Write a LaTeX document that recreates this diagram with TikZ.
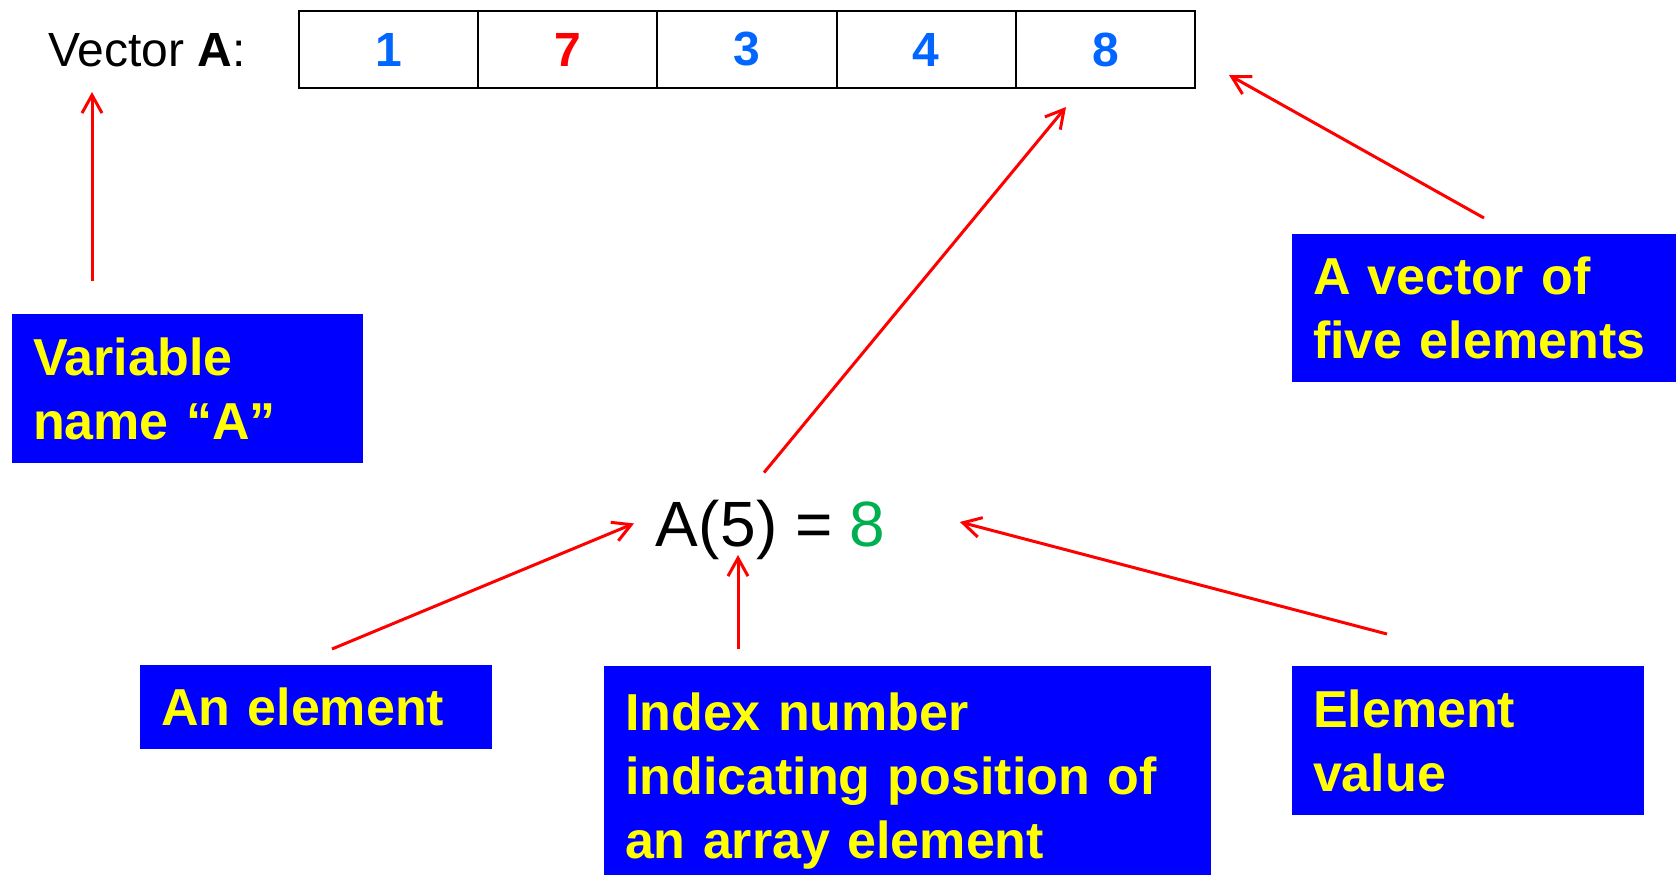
\documentclass[tikz,border=0pt]{standalone}
\usepackage{fontspec}
\setmainfont{Liberation Sans}
\usepackage{tikz}
\usetikzlibrary{positioning,arrows.meta}
\usetikzlibrary{calc}
\definecolor{boxblue}{RGB}{0,0,255}
\definecolor{noteyellow}{RGB}{255,255,0}
\definecolor{numblue}{RGB}{0,102,255}
\definecolor{valgreen}{RGB}{0,176,80}
\definecolor{arrred}{RGB}{255,0,0}

\begin{document}
\begin{tikzpicture}[x=0.5pt, y=-0.5pt,
  cell/.style={draw=black, line width=1pt, minimum width=89.6pt, minimum height=38.5pt, inner sep=0pt, outer sep=0pt, font=\bfseries\fontsize{24}{28}\selectfont},
  note/.style={fill=boxblue, text=noteyellow, font=\bfseries\fontsize{26}{32}\selectfont, align=left, inner xsep=10.5pt, inner ysep=0pt, outer sep=0pt},
  eq/.style={inner sep=0pt, font=\fontsize{32}{38}\selectfont},
  arr/.style={-{Straight Barb[length=9pt,width=10pt]}, draw=arrred, line width=1.5pt}]
\useasboundingbox (0,0) rectangle (1676,874);
\node[anchor=base west, inner sep=0pt, font=\fontsize{24}{29}\selectfont] (lbl) at (48,66) {Vector \textbf{A}:};
\foreach \i/\v/\c in {1/1/numblue, 2/7/arrred, 3/3/numblue, 4/4/numblue, 5/8/numblue}
  \node[cell, text=\c] (c\i) at ({299+179.2*(\i-0.5)},49.5) {\v};
\node[eq, anchor=base west] (eqA) at (655,546) {A(};
\node[eq, base right=0pt of eqA] (idx) {5};
\node[eq, base right=0pt of idx] (eqR) {)\ =};
\node[eq, base right=8pt of eqR, text=valgreen] (val) {8};
\node[note, text width=154.5pt, minimum height=74.5pt] (varbox) at (187.5,388.5) {Variable\\name ``A''};
\node[note, text width=171pt, minimum height=74pt] (vecbox) at (1484,308) {A vector of\\five elements};
\node[note, text width=155pt, minimum height=42pt] (elbox) at (316,707) {An element};
\node[note, text width=282.5pt, minimum height=115pt] (ixbox) at (907.5,781) {Index number\\indicating position of\\an array element};
\node[note, text width=155pt, minimum height=74.5pt] (evbox) at (1468,740.5) {Element\\value};
\draw[arr] ([xshift=40pt,yshift=16.5pt]varbox.north west) -- ([xshift=22pt,yshift=-13pt]lbl.base west);
\draw[arr] ([yshift=8pt]vecbox.north) -- ([xshift=17pt,yshift=6.5pt]c5.south east);
\draw[arr] ([xshift=13pt,yshift=14.5pt]idx.north) -- ([xshift=-19.7pt,yshift=-9.5pt]c5.south);
\draw[arr] ([xshift=8pt,yshift=8pt]elbox.north) -- ([xshift=-10.5pt,yshift=3pt]eqA.west);
\draw[arr, shorten <=8.5pt, shorten >=4pt] (idx.south |- ixbox.north) -- (idx.south);
\draw[arr] ([xshift=-40.5pt,yshift=16pt]evbox.north) -- ([xshift=37pt,yshift=1pt]val.east);
\end{tikzpicture}
\end{document}
